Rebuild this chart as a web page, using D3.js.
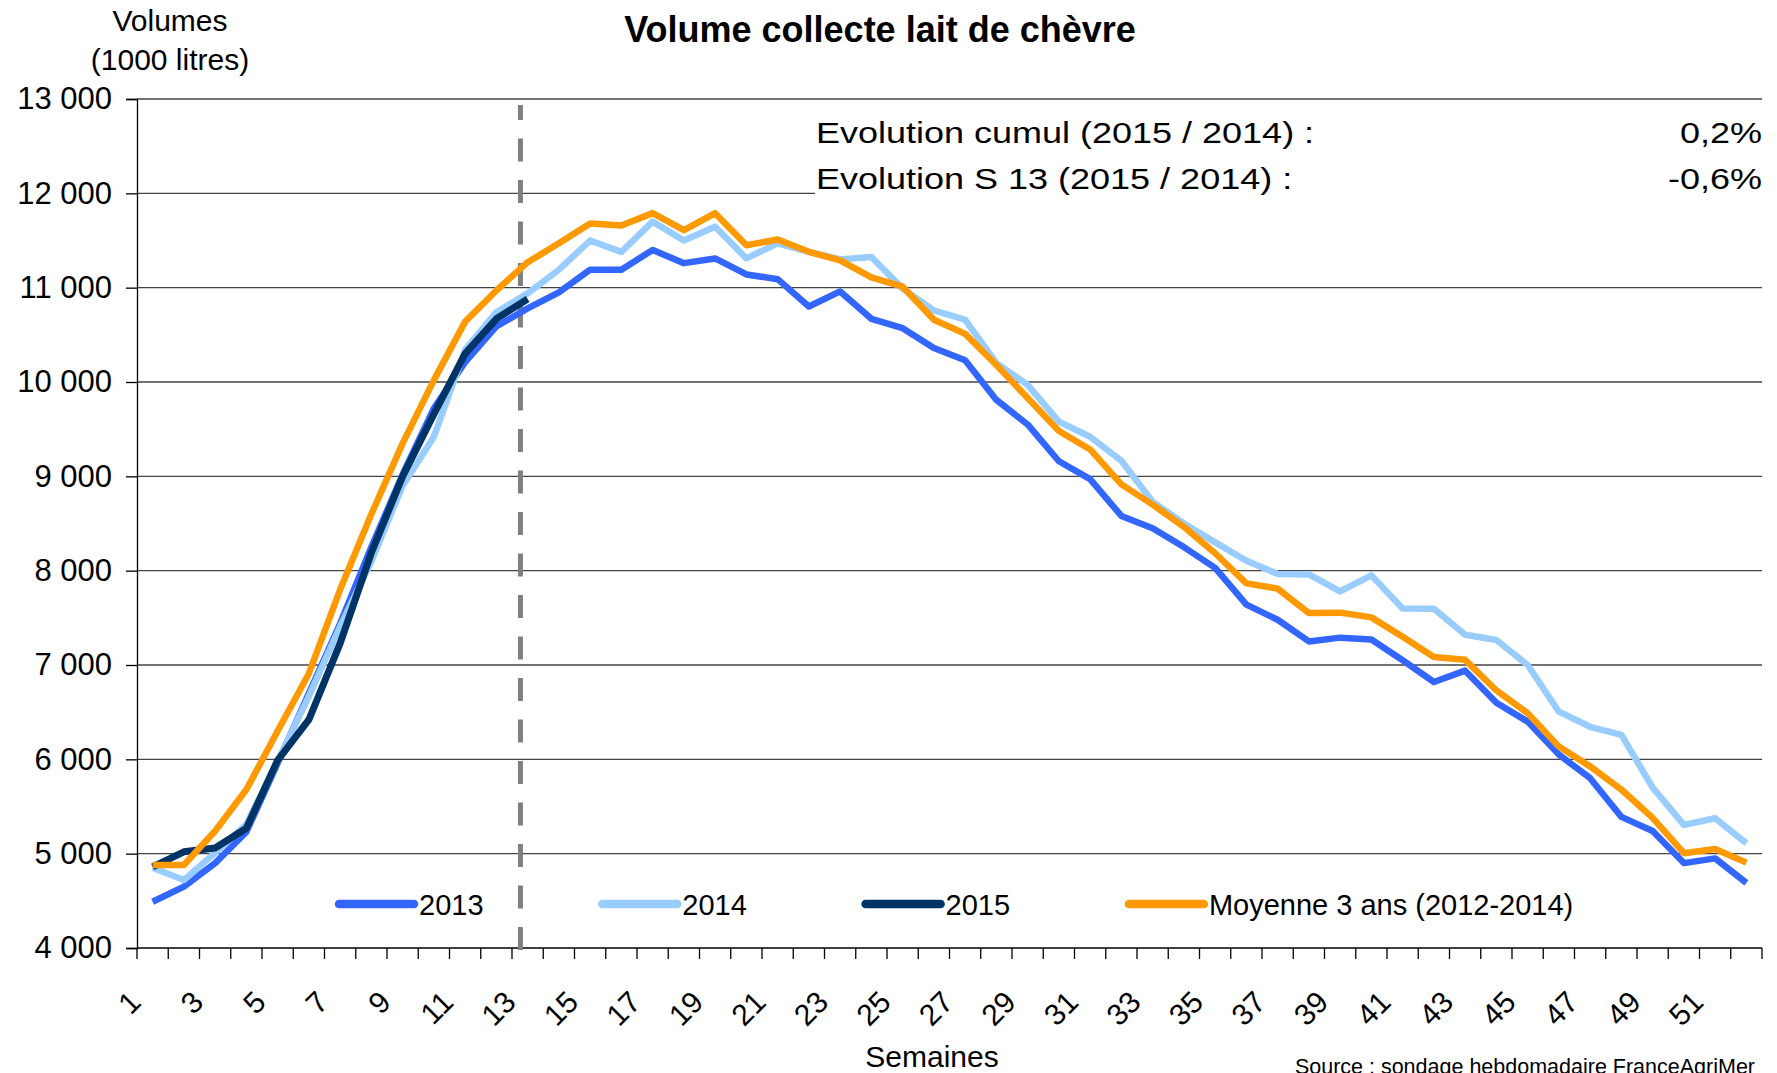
<!DOCTYPE html>
<html>
<head>
<meta charset="utf-8">
<script src="https://cdnjs.cloudflare.com/ajax/libs/d3/7.8.5/d3.min.js"></script>
<style>
body { margin: 0; background: #fff; }
svg { display: block; font-family: "Liberation Sans", Arial, sans-serif; }
</style>
</head>
<body>
<svg width="1777" height="1073"></svg>
<script>
// semaines 1 a 52
var weeks = d3.range(1, 53);

var vol2013 = [4490, 4650, 4900, 5230, 5960, 6700, 7440, 8250, 9020, 9720,
  10210, 10590, 10780, 10950, 11190, 11190, 11400, 11260, 11310, 11140,
  11090, 10800, 10960, 10670, 10570, 10360, 10230, 9810, 9550, 9160,
  8970, 8580, 8450, 8250, 8030, 7640, 7480, 7250, 7290, 7270,
  7050, 6820, 6940, 6600, 6400, 6050, 5800, 5390, 5240, 4900,
  4950, 4690];
var vol2014 = [4850, 4720, 5010, 5310, 5980, 6670, 7410, 8100, 8900, 9420,
  10340, 10740, 10940, 11190, 11500, 11380, 11700, 11500, 11645, 11310,
  11470, 11380, 11300, 11325, 10990, 10760, 10660, 10200, 9970, 9580,
  9420, 9165, 8730, 8500, 8300, 8105, 7965, 7960, 7780, 7950,
  7600, 7595, 7320, 7265, 7000, 6505, 6345, 6260, 5700, 5305,
  5375, 5110];
var vol2015 = [4860, 5020, 5060, 5270, 5990, 6420, 7230, 8190, 9000, 9660,
  10300, 10670, 10880];
var volMoy = [4880, 4880, 5240, 5680, 6300, 6910, 7800, 8600, 9350, 10020,
  10640, 10970, 11270, 11470, 11680, 11660, 11790, 11610, 11790, 11450,
  11510, 11380, 11290, 11110, 11010, 10660, 10510, 10180, 9830, 9480,
  9285, 8915, 8700, 8465, 8185, 7865, 7810, 7550, 7555, 7505,
  7300, 7085, 7055, 6730, 6490, 6135, 5925, 5680, 5380, 5005,
  5050, 4905];

var yTicks = [4000, 5000, 6000, 7000, 8000, 9000, 10000, 11000, 12000, 13000];
var xLabelWeeks = weeks.filter(function(w) { return w % 2 == 1; });

var seriesNames = ["2013", "2014", "2015", "Moyenne 3 ans (2012-2014)"];
var seriesColors = ["#3366ff", "#99ccff", "#003366", "#ff9900"];
var seriesValues = [vol2013, vol2014, vol2015, volMoy];

var evoLabels = ["Evolution cumul (2015 / 2014) :", "Evolution S 13 (2015 / 2014) :"];
var evoValues = ["0,2%", "-0,6%"];
var currentWeek = 13;

var svg = d3.select("svg");
var plotL = 137, plotR = 1762, plotT = 99, plotB = 948;

var x = d3.scaleBand().domain(weeks).range([plotL, plotR]).padding(0);
var y = d3.scaleLinear().domain([4000, 13000]).range([plotB, plotT]);
var bw = x.bandwidth();

var fr = d3.formatLocale({ decimal: ",", thousands: " ", grouping: [3], currency: ["", ""] });
var fmt = fr.format(",");

// grille horizontale
svg.append("g")
  .selectAll("line")
  .data(yTicks.slice(1))
  .enter().append("line")
  .attr("x1", plotL)
  .attr("x2", plotR)
  .attr("y1", function(d) { return y(d); })
  .attr("y2", function(d) { return y(d); })
  .attr("stroke", "#444")
  .attr("stroke-width", 1.3);

// cadre blanc du texte d'evolution (cache la grille)
svg.append("rect")
  .attr("x", 815)
  .attr("y", y(13000) + 2)
  .attr("width", plotR - 815 + 2)
  .attr("height", y(12000) - y(13000) + 4)
  .attr("fill", "#fff");

// axe Y
var yAxis = svg.append("g")
  .attr("transform", "translate(" + plotL + ",0)")
  .call(d3.axisLeft(y).tickValues(yTicks).tickSize(11).tickPadding(14).tickFormat(fmt));
yAxis.select(".domain").attr("stroke", "#000").attr("stroke-width", 1.3);
yAxis.selectAll(".tick line").attr("stroke", "#000").attr("stroke-width", 1.3);
yAxis.selectAll(".tick text")
  .attr("font-size", 31)
  .attr("fill", "#000")
  .attr("font-family", "Liberation Sans, Arial, sans-serif");

// axe X : traits entre les categories
svg.append("line")
  .attr("x1", plotL).attr("x2", plotR)
  .attr("y1", plotB).attr("y2", plotB)
  .attr("stroke", "#000").attr("stroke-width", 1.3);

svg.append("g")
  .selectAll("line")
  .data(d3.range(0, weeks.length + 1))
  .enter().append("line")
  .attr("x1", function(i) { return plotL + i * x.step(); })
  .attr("x2", function(i) { return plotL + i * x.step(); })
  .attr("y1", plotB)
  .attr("y2", plotB + 11)
  .attr("stroke", "#000")
  .attr("stroke-width", 1.3);

svg.append("g")
  .selectAll("text")
  .data(xLabelWeeks)
  .enter().append("text")
  .attr("transform", function(d) {
    return "translate(" + (x(d) + bw / 2 - 10) + "," + (plotB + 56) + ") rotate(-45)";
  })
  .attr("text-anchor", "end")
  .attr("font-size", 30)
  .text(function(d) { return d; });

// ligne pointillee semaine courante
var xMark = x(currentWeek) + bw * 0.27;
svg.append("line")
  .attr("x1", xMark).attr("x2", xMark)
  .attr("y1", plotB + 2).attr("y2", plotT + 6)
  .attr("stroke", "#808080")
  .attr("stroke-width", 5)
  .attr("stroke-dasharray", "23,18.5");

// courbes
var line = d3.line()
  .x(function(d, i) { return x(weeks[i]) + bw / 2; })
  .y(function(d) { return y(d); });

svg.append("g")
  .selectAll("path")
  .data(seriesValues)
  .enter().append("path")
  .attr("d", line)
  .attr("fill", "none")
  .attr("stroke", function(d, i) { return seriesColors[i]; })
  .attr("stroke-width", function(d, i) { return i == 2 ? 7 : 6.5; })
  .attr("stroke-linejoin", "round");

// legende
var legend = svg.append("g")
  .selectAll("g")
  .data(seriesNames)
  .enter().append("g")
  .attr("transform", function(d, i) { return "translate(" + (339 + i * 263.3) + ",904)"; });

legend.append("line")
  .attr("x1", 0).attr("x2", 75)
  .attr("stroke", function(d, i) { return seriesColors[i]; })
  .attr("stroke-width", 8.5)
  .attr("stroke-linecap", "round");

legend.append("text")
  .attr("x", 80)
  .attr("y", 11)
  .attr("font-size", 29)
  .text(function(d) { return d; });

// textes
svg.append("text")
  .attr("x", 880).attr("y", 42)
  .attr("text-anchor", "middle")
  .attr("font-size", 36)
  .attr("font-weight", "bold")
  .text("Volume collecte lait de chèvre");

svg.append("text")
  .attr("x", 170).attr("y", 31)
  .attr("text-anchor", "middle")
  .attr("font-size", 30)
  .text("Volumes");
svg.append("text")
  .attr("x", 170).attr("y", 70)
  .attr("text-anchor", "middle")
  .attr("font-size", 30)
  .text("(1000 litres)");

svg.append("text")
  .attr("x", 932).attr("y", 1067)
  .attr("text-anchor", "middle")
  .attr("font-size", 30)
  .text("Semaines");

svg.append("text")
  .attr("x", 1755).attr("y", 1074)
  .attr("text-anchor", "end")
  .attr("font-size", 21.5)
  .text("Source : sondage hebdomadaire FranceAgriMer");

evoLabels.forEach(function(t, i) {
  svg.append("text")
    .attr("transform", "translate(816," + (143 + i * 46) + ") scale(1.2,1)")
    .attr("font-size", 30)
    .text(t);
  svg.append("text")
    .attr("transform", "translate(" + plotR + "," + (143 + i * 46) + ") scale(1.2,1)")
    .attr("text-anchor", "end")
    .attr("font-size", 30)
    .text(evoValues[i]);
});
</script>
</body>
</html>
